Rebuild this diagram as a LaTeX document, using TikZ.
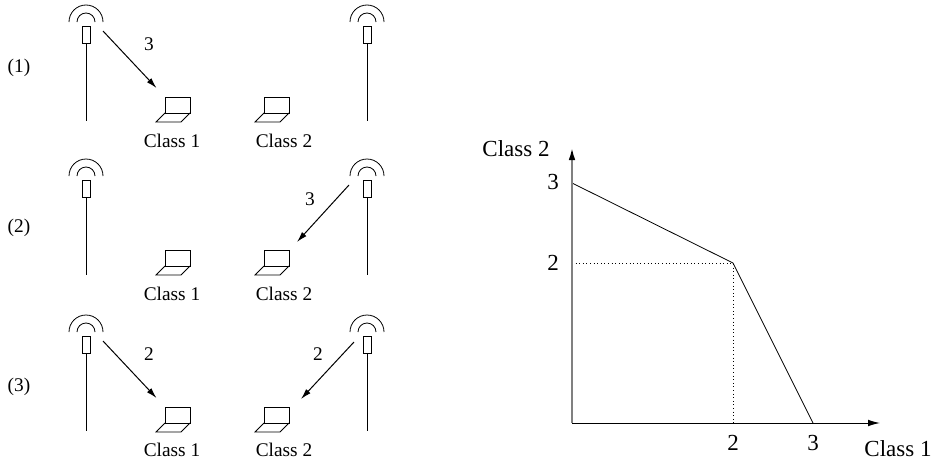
\documentclass[tikz,border=0pt]{standalone}
\usepackage{fontspec}
\setmainfont{Liberation Serif}
\usetikzlibrary{arrows.meta}
\definecolor{axisgray}{gray}{0.5}
\tikzset{
  thin line/.style={line width=0.6pt,draw=black},
  flow/.style={line width=0.75pt,-{Latex[length=8pt,width=4.5pt]}},
  axisx/.style={line width=0.75pt,-{Latex[length=9pt,width=5pt]}},
  axisy/.style={line width=1.3pt,draw=axisgray,-{Latex[length=9pt,width=5pt,black]}},
  small/.style={font=\fontsize{14.5}{16}\selectfont,inner sep=0pt},
  big/.style={font=\fontsize{17.25}{20}\selectfont,inner sep=0pt},
  dots/.style={line width=0.7pt,dotted},
  pics/tower/.style={code={
    \draw[thin line] (-4,-26) rectangle (4,-43);
    \draw[thin line] (0,-43) -- (0,-121);
    \draw[thin line] (-17,-22) arc (180:0:17);
    \draw[thin line] (-9,-22) arc (180:0:9);
  }},
  pics/laptop/.style={code={
    \draw[thin line] (0,0) rectangle (25,-16);
    \draw[thin line] (0,-16) -- (-9,-25) -- (16,-25) -- (25,-16);
  }}
}
\begin{document}
\begin{tikzpicture}[x=0.75pt,y=0.75pt]
\useasboundingbox (0,0) rectangle (932,-464);
% row 1
\pic at (86,0) {tower};
\pic at (367,0) {tower};
\pic at (165,-97) {laptop};
\pic at (264,-97) {laptop};
\node[small] (r1) at (19,-67.5) {(1)};
\node[small] (c11) at (172,-140.5) {Class 1};
\node[small] (c12) at (284,-140.5) {Class 2};
\coordinate (a1s) at (103,-31); \coordinate (a1e) at (156.5,-88);
\draw[flow] (a1s) -- (a1e);
\node[small] (l1) at (149,-44) {3};
% row 2
\pic at (86,-154) {tower};
\pic at (367,-154) {tower};
\pic at (165,-250) {laptop};
\pic at (264,-250) {laptop};
\node[small] (r2) at (19,-228) {(2)};
\node[small] (c21) at (172,-293.5) {Class 1};
\node[small] (c22) at (284,-293.5) {Class 2};
\coordinate (a2s) at (349,-185); \coordinate (a2e) at (297,-242);
\draw[flow] (a2s) -- (a2e);
\node[small] (l2) at (310,-199) {3};
% row 3
\pic at (86,-310) {tower};
\pic at (367,-310) {tower};
\pic at (165,-407) {laptop};
\pic at (264,-407) {laptop};
\node[small] (r3) at (19,-386.5) {(3)};
\node[small] (c31) at (172,-450) {Class 1};
\node[small] (c32) at (284,-450) {Class 2};
\coordinate (a3s) at (103,-341); \coordinate (a3e) at (156.5,-398);
\draw[flow] (a3s) -- (a3e);
\node[small] (l3) at (149,-354) {2};
\coordinate (a4s) at (354,-342); \coordinate (a4e) at (301,-399);
\draw[flow] (a4s) -- (a4e);
\node[small] (l4) at (318,-354) {2};
% chart
\coordinate (o) at (572,-423);
\coordinate (ytip) at (572,-148);
\coordinate (xtip) at (880,-423);
\coordinate (p3) at (572,-183);
\coordinate (p2) at (572,-263);
\coordinate (k) at (733,-263);
\coordinate (q2) at (733,-423);
\coordinate (q3) at (813,-423);
\draw[dots] (p2) -- (k) -- (q2);
\draw[thin line] (p3) -- (k) -- (q3);
\draw[axisy] (o) -- (ytip);
\draw[axisx] (o) -- (xtip);
\node[big] (t3) at (553,-182) {3};
\node[big] (t2) at (553,-263) {2};
\node[big] (u2) at (733,-443) {2};
\node[big] (u3) at (813,-443) {3};
\node[big] (yl) at (516,-149) {Class 2};
\node[big] (xl) at (898,-449) {Class 1};
\end{tikzpicture}
\end{document}
